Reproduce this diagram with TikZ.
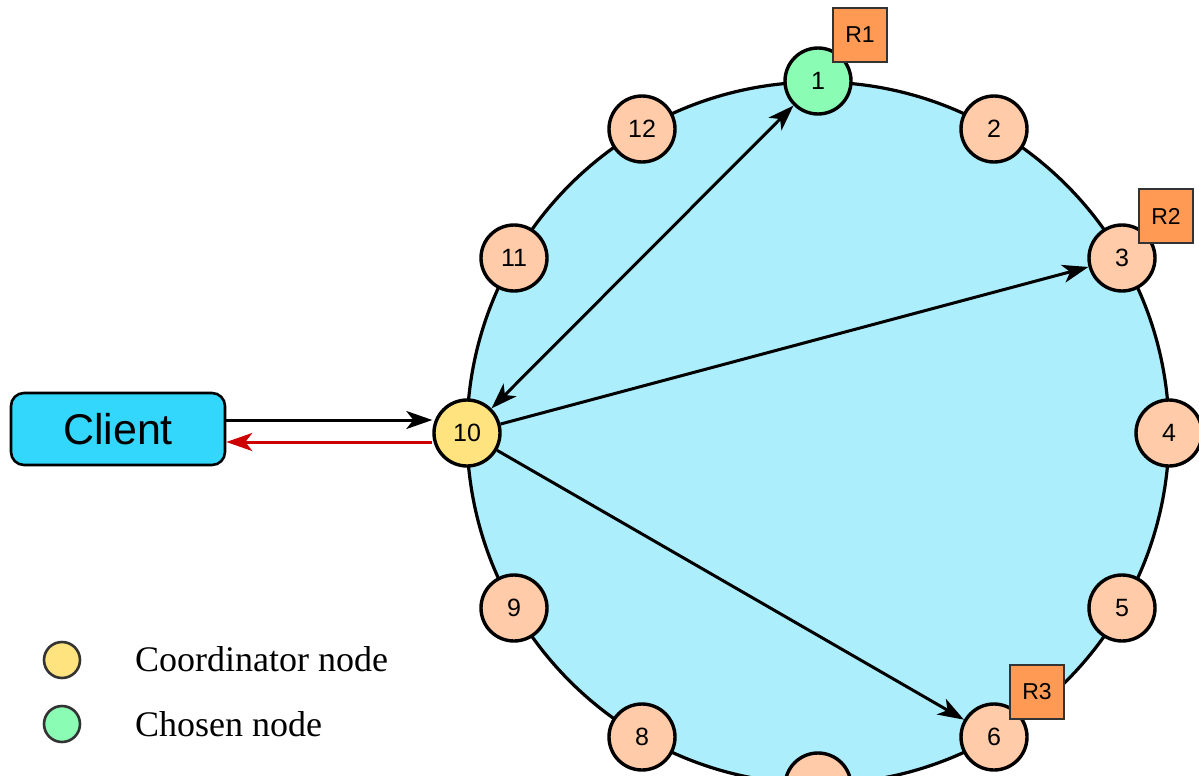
\documentclass[tikz,border=0pt]{standalone}
\usepackage{fontspec}
\setmainfont{Liberation Serif}
\setsansfont{Liberation Sans}
\usetikzlibrary{arrows.meta}
\definecolor{ringfill}{HTML}{ADEEFD}
\definecolor{peach}{HTML}{FFCBA8}
\definecolor{chosen}{HTML}{8AFCB3}
\definecolor{coord}{HTML}{FFE37F}
\definecolor{rbox}{HTML}{FF9A55}
\definecolor{clientc}{HTML}{33D7FB}
\definecolor{retred}{HTML}{CC0000}
\begin{document}
\begin{tikzpicture}[x=1pt,y=-1pt,
  ringnode/.style={circle, draw=black, line width=3.4pt, fill=peach, minimum size=66pt, inner sep=0pt,
     font=\sffamily\fontsize{25}{25}\selectfont},
  replbox/.style={rectangle, draw=black!80, line width=2pt, fill=rbox, minimum size=54pt, inner sep=0pt,
     font=\sffamily\fontsize{23}{23}\selectfont},
  tip/.tip={Stealth[length=26pt,width=18pt,inset=7pt]},
  arr/.style={line width=3pt, draw=black, arrows={-tip}},
  arrboth/.style={line width=3pt, draw=black, arrows={tip-tip}},
  legcirc/.style={circle, draw=black!80, line width=2.6pt, minimum size=36pt, inner sep=0pt},
  legtext/.style={anchor=base west, inner sep=0pt, font=\rmfamily\fontsize{36}{36}\selectfont}
]
\useasboundingbox (0,0) rectangle (1199,776);
\fill[white] (0,0) rectangle (1199,776);
% ring
\draw[line width=3.2pt, fill=ringfill] (818,433) circle[radius=351];
% ring nodes
\node[ringnode, fill=chosen] (n1) at (818,81) {1};
\node[ringnode] (n2) at (994,129) {2};
\node[ringnode] (n3) at (1122,258) {3};
\node[ringnode] (n4) at (1169,433) {4};
\node[ringnode] (n5) at (1122,608) {5};
\node[ringnode] (n6) at (994,737) {6};
\node[ringnode] (n7) at (818,786) {};
\node[ringnode] (n8) at (642,737) {8};
\node[ringnode] (n9) at (514,608) {9};
\node[ringnode, fill=coord] (n10) at (467,433) {10};
\node[ringnode] (n11) at (514,258) {11};
\node[ringnode] (n12) at (642,129) {12};
% replica boxes
\node[replbox] (r1) at (860,35) {R1};
\node[replbox] (r2) at (1166,216) {R2};
\node[replbox] (r3) at (1037,692) {R3};
% client
\node[rectangle, rounded corners=13pt, draw=black, line width=2.6pt, fill=clientc,
      minimum width=214pt, minimum height=72pt, inner sep=0pt,
      font=\sffamily\fontsize{43}{43}\selectfont] (client) at (118,429) {Client};
% arrows
\draw[arrboth] (n10) -- (n1);
\draw[arr] (n10) -- (n3);
\draw[arr] (n10) -- (n6);
\draw[arr] ([yshift=9pt]client.east) -- ([yshift=9pt]client.east -| n10.west);
\draw[arr, draw=retred, color=retred] ([yshift=-13pt]client.east -| n10.west) -- ([yshift=-13pt]client.east);
% legend
\node[legcirc, fill=coord] (l1) at (62,660) {};
\node[legtext] (t1) at (135,671) {Coordinator node};
\node[legcirc, fill=chosen] (l2) at (62,724) {};
\node[legtext] (t2) at (135,736) {Chosen node};
\end{tikzpicture}
\end{document}
